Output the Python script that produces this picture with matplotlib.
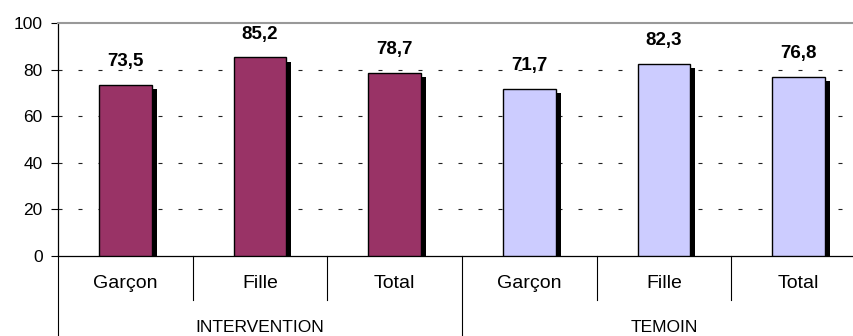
import matplotlib
matplotlib.use("Agg")
import matplotlib.pyplot as plt
from matplotlib.lines import Line2D

plt.rcParams['font.family'] = ['Liberation Sans', 'DejaVu Sans']

categories = ["Garçon", "Fille", "Total", "Garçon", "Fille", "Total"]
groups = ["INTERVENTION", "TEMOIN"]
values = [73.5, 85.2, 78.7, 71.7, 82.3, 76.8]
value_labels = ["73,5", "85,2", "78,7", "71,7", "82,3", "76,8"]
colors = ["#993366"] * 3 + ["#CCCCFF"] * 3
yticks = [0, 20, 40, 60, 80, 100]

fig = plt.figure(figsize=(8.54, 3.36), dpi=100)
ax = fig.add_axes([58 / 854, 80 / 336, 808 / 854, 233 / 336])

x = list(range(len(values)))
w = 0.39

# drop shadow behind each bar
ax.bar([i + 0.037 for i in x], [v - 1.8 for v in values], width=w,
       color="black", zorder=2)
ax.bar(x, values, width=w, color=colors, edgecolor="black",
       linewidth=1.0, zorder=3)

for i, v, t in zip(x, values, value_labels):
    ax.text(i, v + 10, t, ha="center", va="center", fontsize=13.5,
            fontweight="bold", zorder=4)

ax.set_xlim(-0.5, 5.5)
ax.set_ylim(0, 100)
ax.set_yticks(yticks)
ax.tick_params(axis="y", labelsize=12.5, length=5, width=0.8, pad=6)
ax.set_xticks([])

for y in yticks[1:-1]:
    ax.axhline(y, color="#222222", lw=0.8, ls=(0, (3.6, 14.4)), zorder=1)

ax.spines["right"].set_visible(False)
ax.spines["top"].set_color("#999999")
ax.spines["top"].set_linewidth(1.5)
ax.spines["left"].set_linewidth(0.9)
ax.spines["bottom"].set_linewidth(0.9)

# two-level category axis below the plot
tr = ax.get_xaxis_transform()
for i, c in enumerate(categories):
    ax.text(i, -0.12, c, transform=tr, ha="center", va="center",
            fontsize=14)
for b in [0.5, 1.5, 3.5, 4.5]:
    ax.add_line(Line2D([b, b], [0, -0.19], transform=tr, color="black",
                       lw=0.8, clip_on=False))
for b in [-0.5, 2.5]:
    ax.add_line(Line2D([b, b], [0, -0.36], transform=tr, color="black",
                       lw=0.8, clip_on=False))
ax.text(1, -0.305, groups[0], transform=tr, ha="center", va="center",
        fontsize=12.5)
ax.text(4, -0.305, groups[1], transform=tr, ha="center", va="center",
        fontsize=12.5)

fig.savefig("out.png", dpi=100)
